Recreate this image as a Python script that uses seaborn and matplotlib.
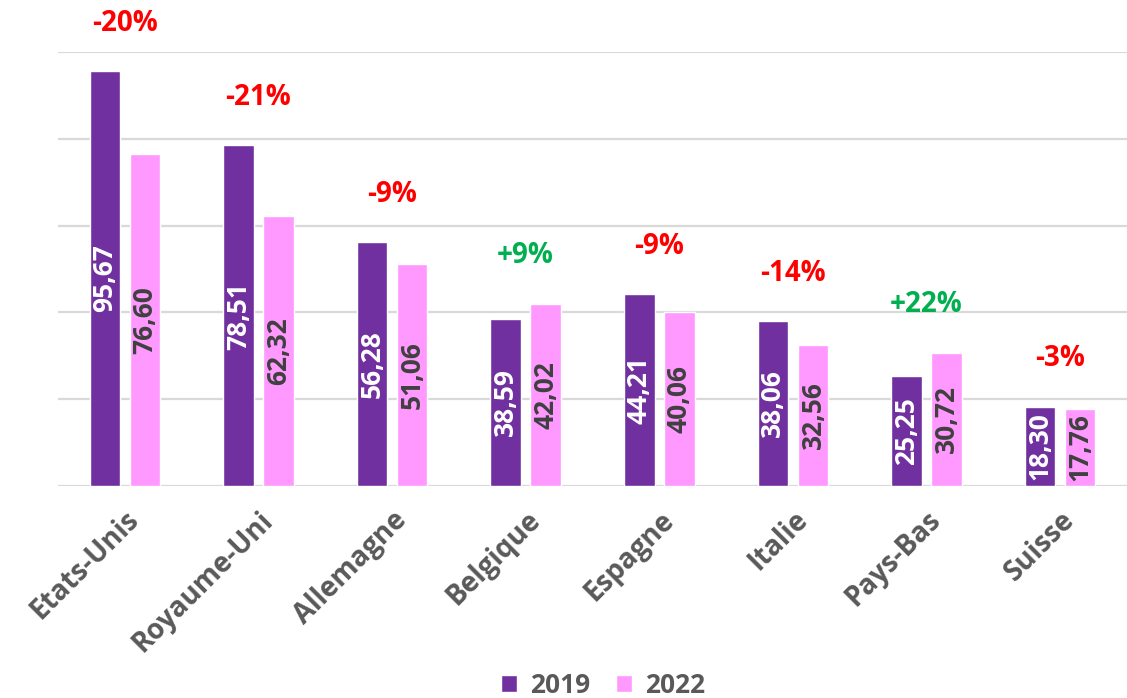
import pandas as pd
import numpy as np
import matplotlib
matplotlib.use("Agg")
import matplotlib.pyplot as plt
import seaborn as sns

# Data
countries = ["Etats-Unis", "Royaume-Uni", "Allemagne", "Belgique",
             "Espagne", "Italie", "Pays-Bas", "Suisse"]
values_2019 = [95.67, 78.51, 56.28, 38.59, 44.21, 38.06, 25.25, 18.30]
values_2022 = [76.60, 62.32, 51.06, 42.02, 40.06, 32.56, 30.72, 17.76]
changes = ["-20%", "-21%", "-9%", "+9%", "-9%", "-14%", "+22%", "-3%"]

df = pd.DataFrame({
    "Pays": countries * 2,
    "Valeur": values_2019 + values_2022,
    "Annee": ["2019"] * len(countries) + ["2022"] * len(countries),
})

sns.set_style("white")
plt.rcParams['font.family'] = ['Open Sans', 'DejaVu Sans']

fig = plt.figure(figsize=(11.27, 6.98), dpi=100)
ax = fig.add_axes([58 / 1127, (698 - 486) / 698, (1127 - 58) / 1127, (486 - 52) / 698])

colors = {"2019": "#7030A0", "2022": "#FF99FF"}
sns.barplot(data=df, x="Pays", y="Valeur", hue="Annee", palette=colors,
            saturation=1, width=0.6, gap=0.24, ax=ax, legend=True, zorder=3)

ax.set_ylim(0, 100)
ax.set_yticks([0, 20, 40, 60, 80, 100])
ax.set_yticklabels([])
ax.tick_params(axis="y", length=0)
ax.tick_params(axis="x", length=0, pad=14)
ax.grid(axis="y", color="#D9D9D9", linewidth=1.6, zorder=0)
ax.set_axisbelow(True)
sns.despine(ax=ax, left=True, bottom=True, top=True, right=True)
ax.set_xlabel("")
ax.set_ylabel("")

ax.set_xticks(range(len(countries)))
ax.set_xticklabels(countries, rotation=45, ha="right", rotation_mode="anchor",
                   fontsize=20, fontweight="bold", color="#595959")

# value labels, rotated, centered in bar
text_colors = ["white", "#404040"]
for i, cont in enumerate(ax.containers):
    for bar in cont:
        h = bar.get_height()
        ax.text(bar.get_x() + bar.get_width() / 2, h / 2,
                f"{h:.2f}".replace(".", ","), rotation=90,
                ha="center", va="center", fontsize=19, fontweight="bold",
                color=text_colors[i], zorder=4)

# evolution labels
for i, c in enumerate(changes):
    top = max(values_2019[i], values_2022[i])
    col = "#00B050" if c.startswith("+") else "#FF0000"
    ax.text(i, top + 11, c, ha="center", va="center", fontsize=20,
            fontweight="bold", color=col, clip_on=False)

leg = ax.legend(loc="center", bbox_to_anchor=(0.51, -0.46), ncol=2,
                frameon=False, fontsize=19, handlelength=0.6, handleheight=0.6,
                columnspacing=1.0, handletextpad=0.5, borderpad=0)
for t in leg.get_texts():
    t.set_color("#595959")
    t.set_fontweight("bold")

fig.savefig("out.png", dpi=100)
